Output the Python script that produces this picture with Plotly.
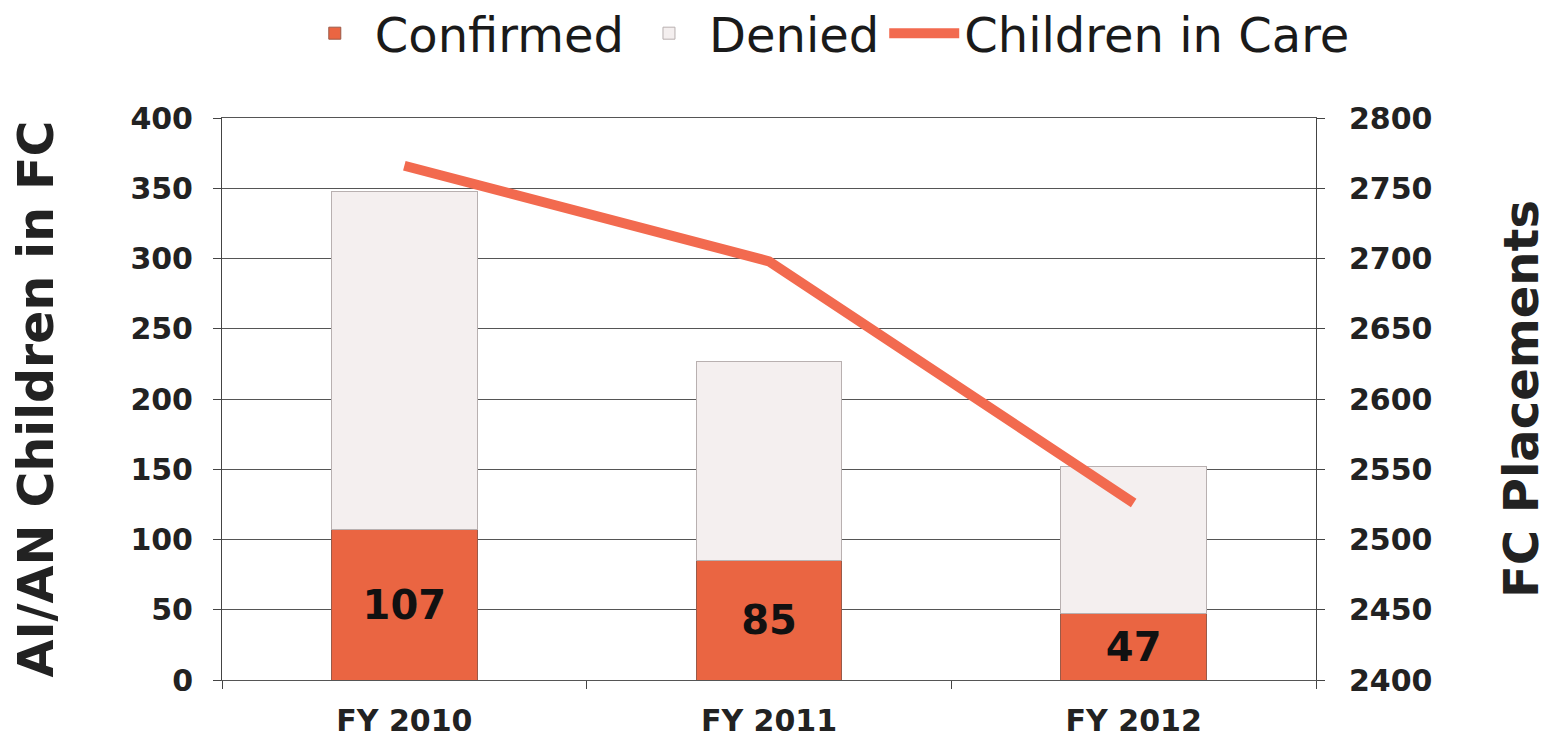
import plotly.graph_objects as go

categories = ["FY 2010", "FY 2011", "FY 2012"]
confirmed = [107, 85, 47]
denied = [241, 142, 105]
children_in_care = [2766, 2698, 2526]

left_ticks = [0, 50, 100, 150, 200, 250, 300, 350, 400]
right_ticks = [2400, 2450, 2500, 2550, 2600, 2650, 2700, 2750, 2800]

FONT = "DejaVu Sans"

fig = go.Figure()
fig.add_trace(go.Bar(
    x=categories, y=confirmed, name="Confirmed",
    marker=dict(color="#EA6542", line=dict(color="#9a5a48", width=1)),
    text=[str(v) for v in confirmed], textposition="inside",
    insidetextanchor="middle", constraintext="none",
    textfont=dict(family=FONT, size=40, color="#111111", weight="bold"),
    width=0.4,
))
fig.add_trace(go.Bar(
    x=categories, y=denied, name="Denied",
    marker=dict(color="#F4EFEF", line=dict(color="#b8b0b0", width=1)),
    width=0.4,
))
fig.add_trace(go.Scatter(
    x=categories, y=children_in_care, name="Children in Care",
    mode="lines", line=dict(color="#F26A4F", width=10),
    yaxis="y2",
))

fig.update_layout(
    barmode="stack",
    width=1547, height=731,
    margin=dict(l=214, r=239, t=110, b=59, autoexpand=False),
    paper_bgcolor="white", plot_bgcolor="white",
    font=dict(family=FONT, color="#222222"),
    showlegend=True,
    legend=dict(orientation="h", x=0.551, xanchor="center", y=1.218, yanchor="top",
                font=dict(family=FONT, size=48, color="#1a1a1a"),
                traceorder="normal", itemwidth=70),
    xaxis=dict(
        type="category", tickson="boundaries", ticks="outside", ticklen=8,
        tickcolor="#444", showgrid=False, showline=True, mirror=True,
        linecolor="#555555", linewidth=1, ticklabelstandoff=14,
        tickfont=dict(family=FONT, size=30, color="#222", weight="bold"),
    ),
    yaxis=dict(
        range=[0, 400], tickvals=left_ticks, showgrid=True, gridcolor="#555555",
        gridwidth=1, showline=True, linecolor="#444", linewidth=1,
        ticks="outside", ticklen=8, tickcolor="#444", zeroline=False,
        ticklabelstandoff=14,
        tickfont=dict(family=FONT, size=30, color="#222", weight="bold"),
        title=dict(text="AI/AN Children in FC", standoff=62,
                   font=dict(family=FONT, size=49, color="#222", weight="bold")),
    ),
    yaxis2=dict(
        range=[2400, 2800], tickvals=right_ticks, overlaying="y", side="right",
        showgrid=False, showline=True, linecolor="#444", linewidth=1,
        ticks="outside", ticklen=8, tickcolor="#444", zeroline=False,
        ticklabelstandoff=18,
        tickfont=dict(family=FONT, size=30, color="#222", weight="bold"),
        title=dict(text="FC Placements", standoff=72,
                   font=dict(family=FONT, size=48, color="#222", weight="bold")),
    ),
)

fig.write_html("out.html")
